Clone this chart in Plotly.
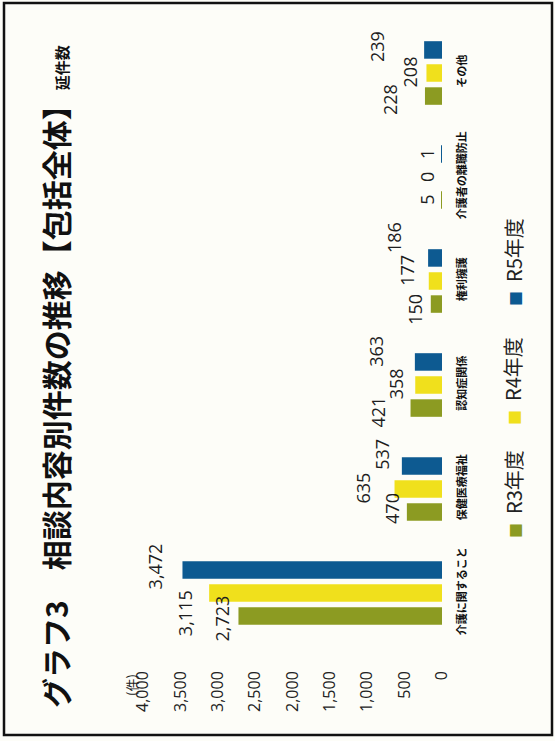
import plotly.graph_objects as go

# ---------------- data ----------------
categories = ["介護に関すること", "保健医療福祉", "認知症関係", "権利擁護", "介護者の離職防止", "その他"]
series_names = ["R3年度", "R4年度", "R5年度"]
r3_values = [2723, 470, 421, 150, 5, 228]
r4_values = [3115, 635, 358, 177, 0, 208]
r5_values = [3472, 537, 363, 186, 1, 239]
value_ticks = [0, 500, 1000, 1500, 2000, 2500, 3000, 3500, 4000]
value_tick_labels = ["0", "500", "1,000", "1,500", "2,000", "2,500", "3,000", "3,500", "4,000"]

# ---------------- styles / layout ----------------
colors = ["#8c9b22", "#f0e01c", "#0d5a91"]
W, H = 555, 741
L, R, T, B = 143, 113, 21, 96
PW, PH = W - L - R, H - T - B
BARGAP, GROUPGAP = 0.335, 0.24
slot_px = PH / len(categories) * (1 - BARGAP) / 3

# label nudges (pixels, rotated frame: dx left negative, dy down positive)
label_nudges = [
    [(-16, 2), (-15, -4), (-32, 4), (-16, 5), (-15, 0), (-35, 3)],
    [(-24, 20), (-32, -1), (-19, -1), (-22, -11), (-15, 0), (-16, -1)],
    [(-28, -4), (-20, -12), (-39, -11), (-34, -20), (-15, 0), (-47, -3)],
]


def px(xp):
    return (xp - L) / PW


def py(yp):
    return (H - B - yp) / PH


series = [r3_values, r4_values, r5_values]

fig = go.Figure()
for name, vals, col in zip(series_names, series, colors):
    fig.add_trace(go.Bar(
        x=vals, y=categories, orientation="h", name=name,
        marker=dict(color=col, line=dict(width=0)),
        showlegend=False, hoverinfo="x+y+name",
    ))

annotations = []
# data labels
for i, vals in enumerate(series):
    for j, v in enumerate(vals):
        dx, dy = label_nudges[i][j]
        annotations.append(dict(
            x=v, y=categories[j], xref="x", yref="y",
            text=f"{v:,}", textangle=-90, showarrow=False,
            xanchor="center", yanchor="middle",
            xshift=dx, yshift=(i - 1) * slot_px - dy,
            font=dict(family="Open Sans, Noto Sans", size=18, color="#1e1e1e"),
        ))

# unit label
annotations.append(dict(
    x=4000, y=0, xref="x", yref="paper", text="(件)", textangle=-90,
    showarrow=False, xanchor="center", yanchor="top", xshift=-12, yshift=-27,
    font=dict(family="Noto Sans CJK JP", size=13, color="#222"),
))

# title
annotations.append(dict(
    x=px(55), y=py(377), xref="paper", yref="paper",
    text="グラフ3　相談内容別件数の推移【包括全体】<span style='font-size:15px'>延件数</span>",
    textangle=-90, showarrow=False, xanchor="center", yanchor="middle",
    font=dict(family="Noto Sans CJK JP", size=30, color="#111", weight="bold"),
))

# legend (rotated)
legend_centers = [(513, 494), (513, 381), (513, 262)]
for name, col, (cx, cy) in zip(series_names, colors, legend_centers):
    annotations.append(dict(
        x=px(cx), y=py(cy), xref="paper", yref="paper",
        text=f"<span style='color:{col};font-size:15px'>■</span>\u00a0\u00a0{name}",
        textangle=-90, showarrow=False, xanchor="center", yanchor="middle",
        font=dict(family="Noto Sans CJK JP", size=20, color="#222"),
    ))

fig.update_layout(
    width=W, height=H,
    margin=dict(l=L, r=R, t=T, b=B, autoexpand=False),
    paper_bgcolor="#fdfdf8", plot_bgcolor="rgba(0,0,0,0)",
    barmode="group", bargap=BARGAP, bargroupgap=GROUPGAP,
    annotations=annotations,
    shapes=[dict(
        type="rect", xref="paper", yref="paper",
        x0=px(4), x1=px(552), y0=py(735), y1=py(3),
        line=dict(color="#111", width=2.5), fillcolor="rgba(0,0,0,0)", layer="below",
    )],
    xaxis=dict(
        range=[4000, 0], tickvals=value_ticks, ticktext=value_tick_labels,
        tickangle=-90, showgrid=False, zeroline=False, showline=False,
        ticks="", ticklabelstandoff=22, automargin=False,
        tickfont=dict(family="Open Sans, Noto Sans", size=16, color="#222"),
    ),
    yaxis=dict(
        side="right", tickangle=-90, showgrid=False, zeroline=False, showline=False,
        ticks="", ticklabelstandoff=12, automargin=False,
        categoryorder="array", categoryarray=categories,
        tickfont=dict(family="Noto Sans CJK JP", size=11, color="#111", weight="bold"),
    ),
)

fig.write_html("out.html")
